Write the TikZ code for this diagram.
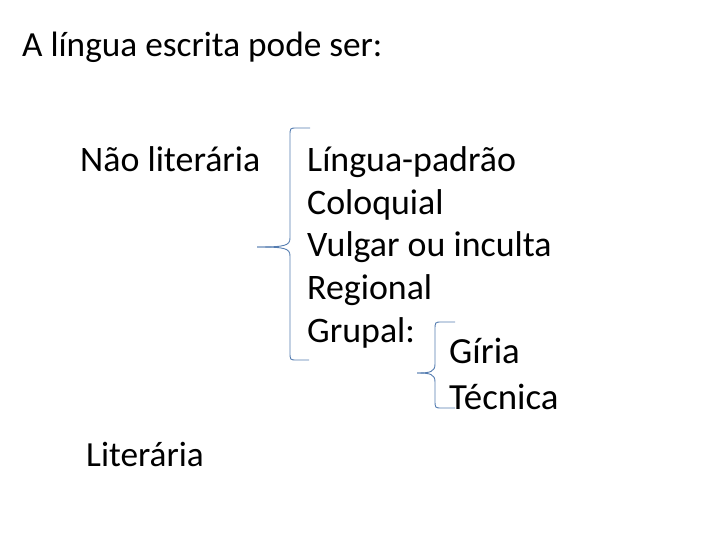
\documentclass[tikz,border=0pt]{standalone}
\usepackage{fontspec}
\setmainfont{Carlito}
\usetikzlibrary{positioning}
\definecolor{bracecol}{RGB}{84,124,176}

\begin{document}
\begin{tikzpicture} [x=1bp, y=-1bp, txt/.style={anchor=base west, inner sep=0pt, font=\fontsize{36}{42}\selectfont}, brace/.style={draw=bracecol, line width=0.9bp}]
\useasboundingbox (0,0) rectangle (720,540);
\node[txt, font=\fontsize{35.4}{42}\selectfont](title) at (22,57){A língua escrita pode ser:};
\node[txt](nl) at (80,172){Não literária};
\node[txt, font=\fontsize{35.4}{42}\selectfont](lit) at (86,466){Literária};
\node[txt](padrao) at (307,172){Língua-padrão};
\node[txt](coloq) at (307,214.5){Coloquial};
\node[txt](vulg) at (307,257){Vulgar ou inculta};
\node[txt](reg) at (307,299.5){Regional};
\node[txt](grup) at (307,342){Grupal:};
\node[txt, font=\fontsize{37}{42}\selectfont](giria) at (449,363){Gíria};
\node[txt, font=\fontsize{37}{42}\selectfont](tec) at (449,409){Técnica};
\coordinate (b1) at (257,247);
\coordinate (b2) at (417,373);
\draw[brace] (310,128) -- (297,128) .. controls (290,128) .. (290,136) -- (290,238) .. controls (290,246) and (284,247) .. (b1);
\draw[brace] (b1) .. controls (284,247) and (290,248) .. (290,256) -- (290,352) .. controls (290,360) .. (297,360) -- (309,360);
\draw[brace] (455,322) -- (442,322) .. controls (435,322) .. (435,330) -- (435,364) .. controls (435,372) and (430,373) .. (b2);
\draw[brace] (b2) .. controls (430,373) and (435,374) .. (435,382) -- (435,400) .. controls (435,408) .. (442,408) -- (455,408);
\end{tikzpicture}
\end{document}
